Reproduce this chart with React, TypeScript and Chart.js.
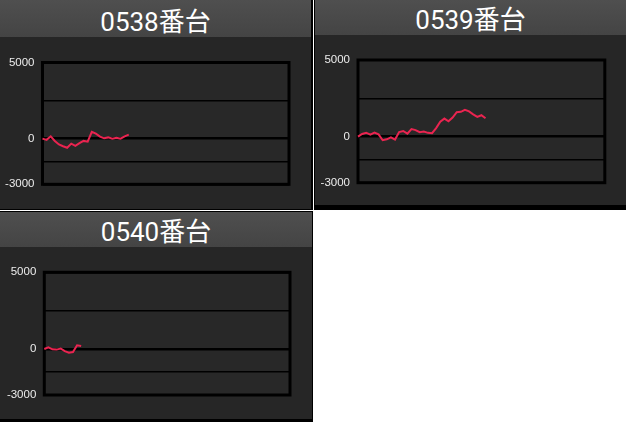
import React, { useEffect, useRef } from "react";
import { Chart, registerables } from "chart.js";

Chart.register(...registerables);

// ---------- data ----------
const titles = ["0538番台", "0539番台", "0540番台"];

// x categories (sample slots along the play axis)
const xCategories = Array.from({ length: 61 }, (_, i) => String(i));

const series0538 = [
  0, -80, 150, -150, -380, -500, -600, -330, -480, -300, -150, -200, 450, 330,
  130, 20, 80, 0, 60, 0, 150, 260,
];
const series0539 = [
  0, 180, 260, 130, 260, 150, -230, -170, -50, -190, 300, 370, 200, 500, 430,
  290, 340, 250, 230, 560, 975, 1180, 1000, 1250, 1600, 1620, 1750, 1650, 1460,
  1290, 1400, 1200,
];
const series0540 = [0, 110, -20, -40, 30, -140, -240, -200, 240, 190];

const seriesList = [series0538, series0539, series0540];

const yTickValues = [5000, 2500, 0, -1500, -3000];
const yTickLabels = ["5000", "", "0", "", "-3000"];
const yMin = -3000;
const yMax = 5000;

// ---------- layout (positions / sizes) ----------
type PanelLayout = {
  outer: { left: number; top: number; width: number; height: number };
  inner: { left: number; top: number; width: number; height: number };
  headerH: number;
  titleShift: number;
  frame: { left: number; top: number; right: number; bottom: number };
};

const layouts: PanelLayout[] = [
  {
    outer: { left: 0, top: 0, width: 313, height: 210 },
    inner: { left: 0, top: 0, width: 311, height: 209 },
    headerH: 37,
    titleShift: 4,
    frame: { left: 42.5, top: 62.5, right: 289, bottom: 184.3 },
  },
  {
    outer: { left: 314, top: 0, width: 312, height: 210 },
    inner: { left: 315, top: 0, width: 311, height: 205 },
    headerH: 35,
    titleShift: 3,
    frame: { left: 358, top: 60, right: 604.8, bottom: 182.7 },
  },
  {
    outer: { left: 0, top: 211, width: 313, height: 211 },
    inner: { left: 0, top: 212, width: 312, height: 207 },
    headerH: 35,
    titleShift: 2.6,
    frame: { left: 44.3, top: 272.3, right: 290, bottom: 395 },
  },
];

const LINE_COLOR = "#ea2450";
const BODY_BG = "#262626";
const PLOT_BG = "#282828";

const framePlugin = {
  id: "plotFrame",
  beforeDraw(chart: any) {
    const { ctx, chartArea: a } = chart;
    ctx.save();
    ctx.fillStyle = PLOT_BG;
    ctx.fillRect(a.left, a.top, a.right - a.left, a.bottom - a.top);
    ctx.restore();
  },
  beforeDatasetsDraw(chart: any) {
    const { ctx, chartArea: a } = chart;
    ctx.save();
    ctx.strokeStyle = "#000";
    ctx.lineWidth = 3;
    ctx.strokeRect(a.left, a.top, a.right - a.left, a.bottom - a.top);
    ctx.restore();
  },
};

function Panel({ idx }: { idx: number }) {
  const ref = useRef<HTMLCanvasElement | null>(null);
  const L = layouts[idx];
  const canvasTop = L.inner.top + L.headerH;
  const canvasW = L.inner.width;
  const canvasH = L.inner.height - L.headerH;

  useEffect(() => {
    if (!ref.current) return;
    const f = L.frame;
    const padTop = f.top - canvasTop;
    const padRight = L.inner.left + canvasW - f.right;
    const padBottom = canvasTop + canvasH - f.bottom;
    const axisW = f.left - L.inner.left;
    const chart = new Chart(ref.current, {
      type: "line",
      data: {
        labels: xCategories,
        datasets: [
          {
            data: seriesList[idx],
            borderColor: LINE_COLOR,
            borderWidth: 2,
            pointRadius: 0,
            tension: 0,
            fill: false,
          },
        ],
      },
      options: {
        animation: false,
        responsive: false,
        devicePixelRatio: 1,
        layout: {
          padding: { left: 0, top: padTop, right: padRight, bottom: padBottom },
        },
        plugins: {
          legend: { display: false },
          tooltip: { enabled: false },
          title: { display: false },
        },
        scales: {
          x: {
            type: "category",
            display: false,
            offset: false,
          },
          y: {
            min: yMin,
            max: yMax,
            afterBuildTicks: (axis: any) => {
              axis.ticks = yTickValues.map((v) => ({ value: v }));
            },
            afterFit: (axis: any) => {
              axis.width = axisW;
            },
            ticks: {
              autoSkip: false,
              padding: 8,
              color: "#ececec",
              font: { family: "'Liberation Sans', Arial, sans-serif", size: 11.5 },
              callback: (value: any) => {
                const i = yTickValues.indexOf(Number(value));
                return i >= 0 ? yTickLabels[i] : "";
              },
            },
            grid: {
              color: "#000",
              lineWidth: (ctx: any) => (ctx.tick && ctx.tick.value === 0 ? 2.5 : 1.6),
              drawTicks: false,
            },
            border: { display: false },
          },
        },
      } as any,
      plugins: [framePlugin],
    });
    return () => chart.destroy();
  }, [idx]);

  return (
    <>
      <div
        style={{
          position: "absolute",
          left: L.outer.left,
          top: L.outer.top,
          width: L.outer.width,
          height: L.outer.height,
          background: "#000",
        }}
      />
      <div
        style={{
          position: "absolute",
          left: L.inner.left,
          top: L.inner.top,
          width: L.inner.width,
          height: L.inner.height,
          background: BODY_BG,
        }}
      >
        <div
          style={{
            height: L.headerH,
            lineHeight: L.headerH + "px",
            background: "linear-gradient(#4f4f4f, #444444)",
            color: "#ffffff",
            textAlign: "center",
            fontSize: 26,
            fontWeight: 400,
            fontFamily: "Roboto, 'Noto Sans CJK JP', sans-serif",
            overflow: "hidden",
          }}
        >
          <span style={{ position: "relative", top: L.titleShift }}>{titles[idx]}</span>
        </div>
      </div>
      <canvas
        ref={ref}
        width={canvasW}
        height={canvasH}
        style={{
          position: "absolute",
          left: L.inner.left,
          top: canvasTop,
          width: canvasW,
          height: canvasH,
        }}
      />
    </>
  );
}

export default function App() {
  return (
    <div
      style={{
        position: "fixed",
        left: 0,
        top: 0,
        width: 626,
        height: 422,
        background: "#fff",
        overflow: "hidden",
      }}
    >
      {titles.map((_, i) => (
        <Panel key={i} idx={i} />
      ))}
    </div>
  );
}
